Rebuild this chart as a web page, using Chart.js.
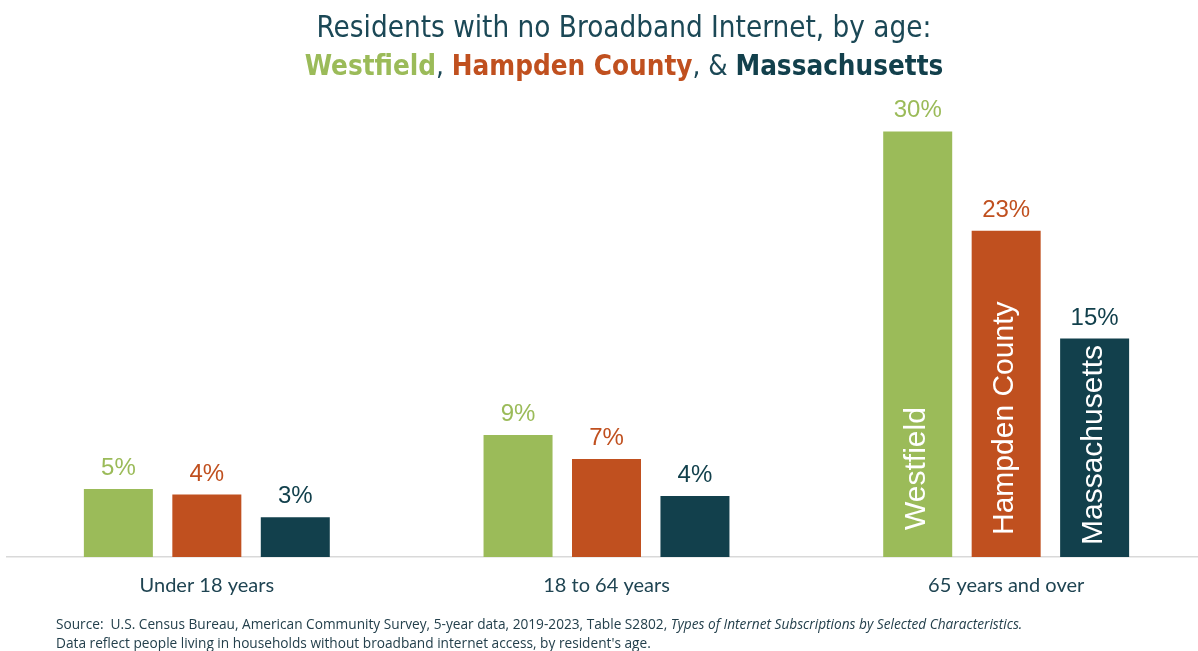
<!DOCTYPE html>
<html>
<head>
<meta charset="utf-8">
<script src="https://cdn.jsdelivr.net/npm/chart.js@4.4.0/dist/chart.umd.min.js"></script>
<style>
  html, body { margin: 0; width: 1198px; height: 651px; overflow: hidden; background: #fff; }
  #chartWrap { position: absolute; left: 0; top: 0; width: 1213px; height: 651px; }
  .line { position: absolute; white-space: nowrap; }
  .line span.fit { display: inline-block; }
  #title1, #title2 {
    left: 624px; transform: translateX(-50%);
    font-family: "Liberation Sans Narrow", "DejaVu Sans Condensed", Roboto, sans-serif;
    color: #1b4856; height: 38px; line-height: 38px;
  }
  #title1 { top: 8px; font-size: 31px; }
  #title2 { top: 47px; font-size: 31px; }
  #title2 b { font-weight: 700; }
  .green { color: #9bbb59; }
  .orange { color: #c0501f; }
  .navy { color: #12404c; }
  .note {
    left: 56px; font-family: "Liberation Sans Narrow", "Open Sans", sans-serif;
    font-size: 14px; color: #24404c; height: 19px; line-height: 19px;
  }
  #note1 { top: 614px; }
  #note2 { top: 633px; }
</style>
</head>
<body>
<div id="chartWrap"><canvas id="chart" width="1213" height="651"></canvas></div>

<div class="line" id="title1"><span class="fit">Residents with no Broadband Internet, by age:</span></div>
<div class="line" id="title2"><span class="fit"><b class="green">Westfield</b>, <b class="orange">Hampden County</b>, &amp; <b class="navy">Massachusetts</b></span></div>

<div class="line note" id="note1"><span class="fit">Source:&nbsp; U.S. Census Bureau, American Community Survey, 5-year data, 2019-2023, Table S2802, <i>Types of Internet Subscriptions by Selected Characteristics.</i></span></div>
<div class="line note" id="note2"><span class="fit">Data reflect people living in households without broadband internet access, by resident's age.</span></div>

<script>
// Share of residents without broadband, percent
const ageGroups = ["Under 18 years", "18 to 64 years", "65 years and over"];
const seriesNames = ["Westfield", "Hampden County", "Massachusetts"];
const westfield = [4.8, 8.6, 30.0];
const hampden = [4.4, 6.9, 23.0];
const massachusetts = [2.8, 4.3, 15.4];

const colors = ["#9bbb59", "#c0501f", "#12404c"];
const axisTextColor = "#1f4452";

// stretch a text line to a given pixel width
function fitWidth(id, target) {
  const line = document.getElementById(id);
  const span = line.querySelector(".fit");
  const size = parseFloat(getComputedStyle(line).fontSize);
  const w = span.getBoundingClientRect().width;
  line.style.fontSize = (size * target / w) + "px";
}
fitWidth("title1", 615);
fitWidth("title2", 639);
fitWidth("note1", 967);
document.getElementById("note2").style.fontSize = document.getElementById("note1").style.fontSize;

// value labels above bars, series names inside the last group
const barLabels = {
  id: "barLabels",
  afterDatasetsDraw(chart, args, opts) {
    const ctx = chart.ctx;
    chart.data.datasets.forEach((ds, di) => {
      const meta = chart.getDatasetMeta(di);
      meta.data.forEach((bar, i) => {
        const v = ds.data[i];
        ctx.save();
        ctx.fillStyle = ds.backgroundColor;
        ctx.font = "24px 'Liberation Sans', Arial, sans-serif";
        ctx.textAlign = "center";
        ctx.textBaseline = "alphabetic";
        ctx.fillText(Math.round(v) + "%", bar.x, bar.y - 14);
        ctx.restore();

        if (i === ageGroups.length - 1) {
          ctx.save();
          ctx.translate(bar.x + 7, bar.base - opts.inset[di]);
          ctx.rotate(-Math.PI / 2);
          ctx.fillStyle = "#ffffff";
          ctx.font = "30px 'Liberation Sans', Arial, sans-serif";
          ctx.textAlign = "left";
          ctx.textBaseline = "alphabetic";
          ctx.fillText(ds.label, 0, 0);
          ctx.restore();
        }
      });
    });
  }
};

const seriesValues = [westfield, hampden, massachusetts];

new Chart(document.getElementById("chart"), {
  type: "bar",
  data: {
    labels: ageGroups,
    datasets: seriesValues.map((vals, k) => ({
      label: seriesNames[k],
      data: vals,
      backgroundColor: colors[k],
      borderWidth: 0,
      categoryPercentage: 0.664,
      barPercentage: 0.78,
    })),
  },
  options: {
    responsive: false,
    animation: false,
    layout: { padding: { left: 7, right: 7, top: 103, bottom: 0 } },
    plugins: {
      legend: { display: false },
      title: { display: false },
      tooltip: { enabled: false },
      barLabels: { inset: [27, 22, 12] },
    },
    scales: {
      x: {
        offset: true,
        grid: { display: false },
        border: { display: true, color: "#d9d9d9", width: 1.5 },
        ticks: {
          color: axisTextColor,
          font: { family: "Lato, 'Open Sans', sans-serif", size: 20 },
          padding: 9,
        },
        afterFit(scale) { scale.height = 94; },
      },
      y: { display: false, min: 0, max: 32 },
    },
  },
  plugins: [barLabels],
});
</script>
</body>
</html>
